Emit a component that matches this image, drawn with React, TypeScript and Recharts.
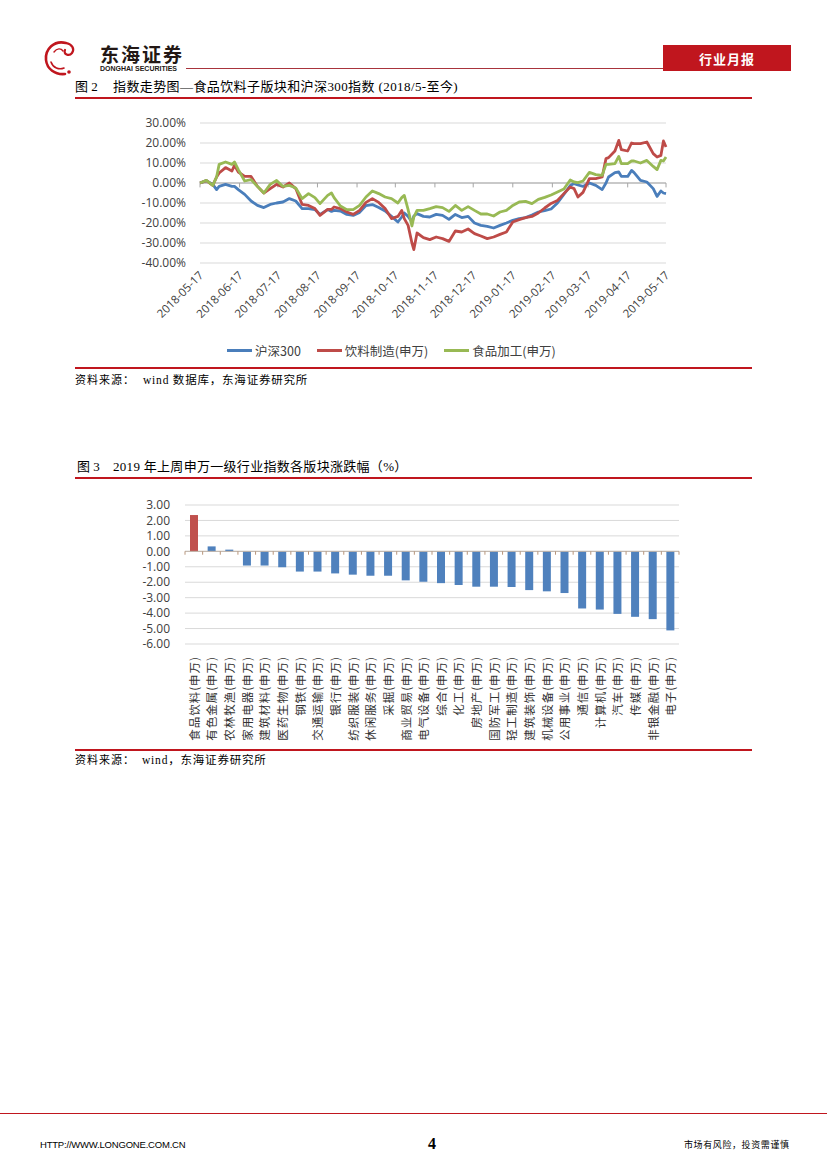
import React from 'react';
import {
  LineChart,
  Line,
  XAxis,
  YAxis,
  CartesianGrid,
  ReferenceLine,
  Legend,
  BarChart,
  Bar,
  Cell,
} from 'recharts';

// ---------- Figure 2 data (days since 2018-05-17, cumulative % change) ----------
const lineDays = [
  0, 5, 10, 13, 15, 20, 25, 27, 30, 35, 40, 45, 50, 55, 60, 65, 70, 75, 80, 85,
  90, 94, 100, 103, 105, 110, 115, 120, 125, 130, 135, 140, 145, 150, 155, 158, 160, 163, 166, 167.5,
  170, 175, 180, 185, 190, 195, 200, 205, 210, 215, 220, 225, 230, 235, 240, 245, 250, 255, 260, 265,
  270, 275, 280, 285, 290, 293, 296, 300, 305, 310, 315, 318, 320, 325, 328, 330, 335, 338, 340, 345,
  350, 355, 358, 361, 363, 365,
];
const hs300 = [
  0, 1.2, -0.7, -3.3, -1.7, -0.7, -1.7, -1.7, -3.3, -5.7, -9, -11.2, -12.3, -10.7, -10, -9.5, -7.8, -9, -12.8, -12.8,
  -13.3, -15.7, -13.3, -14.2, -13.7, -14, -15.7, -16.2, -14.7, -11.3, -10.8, -12.3, -14, -16.7, -19.5, -17, -15, -16.7, -19.5, -16.5,
  -15.3, -16.7, -17, -15.7, -16.2, -18.2, -15.7, -17.3, -16.7, -20, -21.2, -21.7, -22.5, -21.2, -20, -18.7, -17.8, -17.3, -16, -14.5,
  -13.8, -13, -10, -5.7, -1.3, -0.3, -1, -1.7, 0, -1.2, -3.3, 0, 3, 5.2, 5.5, 3.3, 3.3, 6.3, 5.2, 1.3,
  0.5, -2.8, -6.7, -4, -5, -5.3,
];
const beverage = [
  0, 1.2, -1.2, 3, 5, 7.7, 6, 8.8, 5.5, 3.3, 3.3, -1.7, -5, -2.8, -0.7, -2, 0, -2.8, -10.7, -11.2,
  -12.8, -16.2, -13.2, -13.2, -12, -12.8, -14.5, -15.7, -13.7, -9.7, -7.8, -9.7, -12.8, -17.8, -16.7, -13.7, -17.8, -21.2, -30, -33.3,
  -25, -27.3, -28.3, -27, -27.8, -29.2, -24, -24.5, -23, -25.3, -26.5, -27.8, -27, -25.7, -24.5, -19.5, -18.3, -17.3, -16.7, -15,
  -12.5, -10.2, -8.7, -5.3, -2, -2.8, -7, -4.7, 2.2, 2.2, 3, 12.2, 12.7, 16, 21.3, 16.7, 16, 20, 19.7, 19.7,
  20.5, 14.7, 13, 13.8, 21, 18,
];
const foodProc = [
  0, 1.3, -1.2, 3, 9.3, 10.5, 9.3, 10.5, 6.7, 1, 1.7, -1.7, -5, -0.7, 1.3, -1.7, -1.2, -2.5, -7.8, -5.3,
  -7.3, -10.3, -6.2, -5, -7.3, -11.5, -13.3, -13.3, -11.2, -7, -4, -5.3, -7, -7.8, -10, -7.3, -6.2, -13.3, -21.5, -17,
  -13.7, -13.7, -12.8, -11.8, -12.3, -14.2, -11.2, -13.7, -11.8, -13.7, -15.5, -15.5, -16.5, -14.5, -13.7, -11.2, -9.5, -9.2, -10.3, -8.2,
  -7.2, -6, -4.5, -3, 1.5, 0.5, 0.2, 1, 5.3, 4.2, 3.8, 9.3, 9.3, 9.7, 13.3, 9.7, 9.7, 11, 11, 10,
  11.3, 8.3, 6.7, 11.3, 11, 13,
];
const monthTickDays = [0, 31, 61, 92, 123, 153, 184, 214, 245, 276, 304, 335, 365];
const monthTickLabels = [
  '2018-05-17', '2018-06-17', '2018-07-17', '2018-08-17', '2018-09-17', '2018-10-17', '2018-11-17',
  '2018-12-17', '2019-01-17', '2019-02-17', '2019-03-17', '2019-04-17', '2019-05-17',
];
const pctTicks = [-40, -30, -20, -10, 0, 10, 20, 30];
const seriesNames = ['沪深300', '饮料制造(申万)', '食品加工(申万)'];
const seriesColors = ['#4A7EBB', '#BE4B48', '#98B954'];

// ---------- Figure 3 data ----------
const industries = [
  '食品饮料(申万)', '有色金属(申万)', '农林牧渔(申万)', '家用电器(申万)', '建筑材料(申万)', '医药生物(申万)',
  '钢铁(申万)', '交通运输(申万)', '银行(申万)', '纺织服装(申万)', '休闲服务(申万)', '采掘(申万)',
  '商业贸易(申万)', '电气设备(申万)', '综合(申万)', '化工(申万)', '房地产(申万)', '国防军工(申万)',
  '轻工制造(申万)', '建筑装饰(申万)', '机械设备(申万)', '公用事业(申万)', '通信(申万)', '计算机(申万)',
  '汽车(申万)', '传媒(申万)', '非银金融(申万)', '电子(申万)',
];
const weeklyChange = [
  2.35, 0.32, 0.11, -0.92, -0.92, -1.03, -1.31, -1.31, -1.43, -1.51, -1.58, -1.58,
  -1.88, -1.97, -2.06, -2.18, -2.29, -2.29, -2.31, -2.51, -2.59, -2.7, -3.7, -3.77,
  -4.05, -4.24, -4.39, -5.12,
];
const changeTicks = [-6, -5, -4, -3, -2, -1, 0, 1, 2, 3];
const highlightColor = '#C0504D';
const barColor = '#4F81BD';

const lineData = lineDays.map((d, i) => ({
  d,
  hs300: hs300[i],
  beverage: beverage[i],
  food: foodProc[i],
}));
const barData = industries.map((name, i) => ({ name, value: weeklyChange[i] }));

const SERIF = "'Liberation Serif', 'Noto Sans CJK SC', serif";
const CJK = "'Noto Sans CJK SC', sans-serif";
const NUM = "'Open Sans', 'Noto Sans CJK SC', sans-serif";
const RED = '#C0161E';

const T = ({ x, cy, size, children, style }: any) => (
  <div
    style={{
      position: 'absolute',
      left: x,
      top: cy - size * 0.6,
      fontSize: size,
      lineHeight: `${size * 1.2}px`,
      whiteSpace: 'nowrap',
      ...style,
    }}
  >
    {children}
  </div>
);

const Rule = ({ x, y, w, h, color }: any) => (
  <div style={{ position: 'absolute', left: x, top: y, width: w, height: h, background: color }} />
);

const DateTick = (props: any) => {
  const { x, y, payload } = props;
  const idx = monthTickDays.indexOf(payload.value);
  const label = idx >= 0 ? monthTickLabels[idx] : '';
  return (
    <text
      x={x + 1}
      y={y + 1}
      transform={`rotate(-45 ${x + 1} ${y + 1})`}
      textAnchor="end"
      dominantBaseline="central"
      fontFamily={NUM}
      fontSize={11.5}
      fill="#404040"
    >
      {label}
    </text>
  );
};

const IndustryTick = (props: any) => {
  const { x, y, payload } = props;
  return (
    <text
      x={x}
      y={y}
      transform={`rotate(-90 ${x} ${y})`}
      textAnchor="end"
      dominantBaseline="central"
      fontFamily={CJK}
      fontSize={11.5}
      letterSpacing={1}
      fill="#333333"
    >
      {payload.value}
    </text>
  );
};

const LegendContent = (props: any) => {
  const items = [...(props.payload || [])].sort(
    (a: any, b: any) => seriesNames.indexOf(a.value) - seriesNames.indexOf(b.value),
  );
  return (
    <div style={{ display: 'flex', alignItems: 'center', height: 22, fontFamily: CJK, fontSize: 12.5, color: '#404040' }}>
      {items.map((p: any) => (
        <div key={p.value} style={{ display: 'flex', alignItems: 'center', marginRight: 16 }}>
          <span style={{ display: 'inline-block', width: 25, height: 3, background: p.color, marginRight: 3 }} />
          <span>{p.value}</span>
        </div>
      ))}
    </div>
  );
};

const Emblem = () => (
  <svg style={{ position: 'absolute', left: 42, top: 38 }} width={38} height={40} viewBox="0 0 38 40">
    <path d="M24 5 C 12 2, 3 11, 4 22 C 5 31, 13 37, 23 36" stroke={RED} strokeWidth={2.6} fill="none" strokeLinecap="round" />
    <path d="M24 5 C 30 6, 33 11, 30 15 C 27 19, 21 16, 23 12" stroke={RED} strokeWidth={2.2} fill="none" strokeLinecap="round" />
    <path d="M9 24 C 11 30, 17 32, 22 30" stroke={RED} strokeWidth={1.6} fill="none" strokeLinecap="round" />
    <path d="M12 14 C 15 10, 19 10, 21 13" stroke={RED} strokeWidth={1.4} fill="none" strokeLinecap="round" />
    <circle cx={27} cy={34} r={1.8} fill={RED} />
  </svg>
);

export default function App() {
  return (
    <div
      style={{
        position: 'absolute',
        left: 0,
        top: 0,
        width: 827,
        height: 1170,
        background: '#ffffff',
        overflow: 'hidden',
        color: '#000',
      }}
    >
      {/* Header */}
      <Emblem />
      <T x={100} cy={54} size={19} style={{ fontFamily: CJK, fontWeight: 700, letterSpacing: 2, color: '#231815' }}>
        东海证券
      </T>
      <T x={100} cy={69} size={7} style={{ fontFamily: "'Liberation Sans', sans-serif", fontWeight: 700, color: '#231815' }}>
        DONGHAI SECURITIES
      </T>
      <Rule x={186} y={68} w={477} h={1} color="#A8343C" />
      <div
        style={{
          position: 'absolute',
          left: 663,
          top: 45,
          width: 128,
          height: 26,
          background: RED,
          color: '#fff',
          fontFamily: CJK,
          fontWeight: 700,
          fontSize: 13,
          letterSpacing: 1,
          display: 'flex',
          alignItems: 'center',
          justifyContent: 'center',
        }}
      >
        行业月报
      </div>

      {/* Figure 2 title */}
      <T x={75} cy={87} size={13} style={{ fontFamily: SERIF }}>图 2</T>
      <T x={113} cy={87} size={13} style={{ fontFamily: SERIF, letterSpacing: 0.4 }}>
        指数走势图—食品饮料子版块和沪深300指数 (2018/5-至今)
      </T>
      <Rule x={75} y={97} w={677} h={2} color={RED} />

      {/* Figure 2 chart */}
      <div style={{ position: 'absolute', left: 130, top: 113 }}>
        <LineChart width={560} height={252} data={lineData} margin={{ top: 10, right: 24, bottom: 4, left: 0 }}>
          <CartesianGrid vertical={false} stroke="#D9D9D9" />
          <XAxis
            dataKey="d"
            type="number"
            domain={[0, 365]}
            ticks={monthTickDays}
            interval={0}
            axisLine={false}
            tickLine={false}
            tickSize={0}
            tickMargin={9}
            height={76}
            tick={<DateTick />}
          />
          <YAxis
            type="number"
            domain={[-40, 30]}
            ticks={pctTicks}
            interval={0}
            width={70}
            axisLine={false}
            tickLine={false}
            tickSize={0}
            tickMargin={14}
            tickFormatter={(v: number) => `${v.toFixed(2)}%`}
            tick={{ fontFamily: NUM, fontSize: 12, fill: '#404040' }}
          />
          <ReferenceLine y={0} stroke="#A6A6A6" strokeWidth={1} />
          {monthTickDays.map((td) => (
            <ReferenceLine
              key={`mt-${td}`}
              segment={[
                { x: td, y: 0 },
                { x: td, y: -2.2 },
              ]}
              stroke="#A6A6A6"
              strokeWidth={1}
            />
          ))}
          <Line
            type="linear"
            dataKey="hs300"
            name={seriesNames[0]}
            stroke={seriesColors[0]}
            strokeWidth={2.8}
            dot={false}
            isAnimationActive={false}
            strokeLinejoin="round"
          />
          <Line
            type="linear"
            dataKey="beverage"
            name={seriesNames[1]}
            stroke={seriesColors[1]}
            strokeWidth={2.8}
            dot={false}
            isAnimationActive={false}
            strokeLinejoin="round"
          />
          <Line
            type="linear"
            dataKey="food"
            name={seriesNames[2]}
            stroke={seriesColors[2]}
            strokeWidth={2.8}
            dot={false}
            isAnimationActive={false}
            strokeLinejoin="round"
          />
          <Legend
            verticalAlign="bottom"
            height={22}
            content={<LegendContent />}
            wrapperStyle={{ left: 97, width: 380, bottom: 4 }}
          />
        </LineChart>
      </div>
      <Rule x={75} y={367} w={677} h={2} color={RED} />
      <T x={75} cy={381} size={11} style={{ fontFamily: SERIF, letterSpacing: 1 }}>资料来源：</T>
      <T x={143} cy={381} size={11.5} style={{ fontFamily: SERIF, letterSpacing: 0.8 }}>wind 数据库，东海证券研究所</T>

      {/* Figure 3 title */}
      <T x={77} cy={467} size={13} style={{ fontFamily: SERIF }}>图 3</T>
      <T x={113} cy={467} size={13} style={{ fontFamily: SERIF, letterSpacing: 0.3 }}>
        2019 年上周申万一级行业指数各版块涨跌幅（%）
      </T>
      <Rule x={75} y={477} w={677} h={2} color={RED} />

      {/* Figure 3 chart */}
      <div style={{ position: 'absolute', left: 120, top: 495 }}>
        <BarChart width={570} height={250} data={barData} margin={{ top: 10, right: 11, bottom: 0, left: 0 }}>
          <CartesianGrid vertical={false} stroke="#D9D9D9" />
          <XAxis
            dataKey="name"
            type="category"
            interval={0}
            axisLine={false}
            tickLine={false}
            tickSize={0}
            tickMargin={12}
            height={101}
            tick={<IndustryTick />}
          />
          <YAxis
            type="number"
            domain={[-6, 3]}
            ticks={changeTicks}
            interval={0}
            width={65}
            axisLine={false}
            tickLine={false}
            tickSize={0}
            tickMargin={15}
            tickFormatter={(v: number) => v.toFixed(2)}
            tick={{ fontFamily: NUM, fontSize: 12, fill: '#404040' }}
          />
          <ReferenceLine y={0} stroke="#BFB3A8" strokeWidth={1} />
          {industries.map((name) => (
            <ReferenceLine
              key={`bt-${name}`}
              segment={[
                { x: name, y: 0 },
                { x: name, y: -0.22 },
              ]}
              position="start"
              stroke="#B8957A"
              strokeWidth={1}
            />
          ))}
          <ReferenceLine
            segment={[
              { x: industries[industries.length - 1], y: 0 },
              { x: industries[industries.length - 1], y: -0.22 },
            ]}
            position="end"
            stroke="#B8957A"
            strokeWidth={1}
          />
          <Bar dataKey="value" barSize={8} isAnimationActive={false}>
            {barData.map((_, i) => (
              <Cell key={`c-${i}`} fill={i === 0 ? highlightColor : barColor} />
            ))}
          </Bar>
        </BarChart>
      </div>
      <Rule x={75} y={749} w={677} h={2} color={RED} />
      <T x={75} cy={761} size={11} style={{ fontFamily: SERIF, letterSpacing: 1 }}>资料来源：</T>
      <T x={142} cy={761} size={11.5} style={{ fontFamily: SERIF, letterSpacing: 0.8 }}>wind，东海证券研究所</T>

      {/* Footer */}
      <Rule x={0} y={1113} w={827} h={1} color={RED} />
      <T x={40} cy={1145} size={9.5} style={{ fontFamily: "'Liberation Sans', sans-serif", letterSpacing: -0.2 }}>
        HTTP://WWW.LONGONE.COM.CN
      </T>
      <T x={428} cy={1144} size={16} style={{ fontFamily: SERIF, fontWeight: 700 }}>4</T>
      <T x={684} cy={1145} size={9} style={{ fontFamily: CJK, letterSpacing: 0.6 }}>市场有风险，投资需谨慎</T>
    </div>
  );
}
